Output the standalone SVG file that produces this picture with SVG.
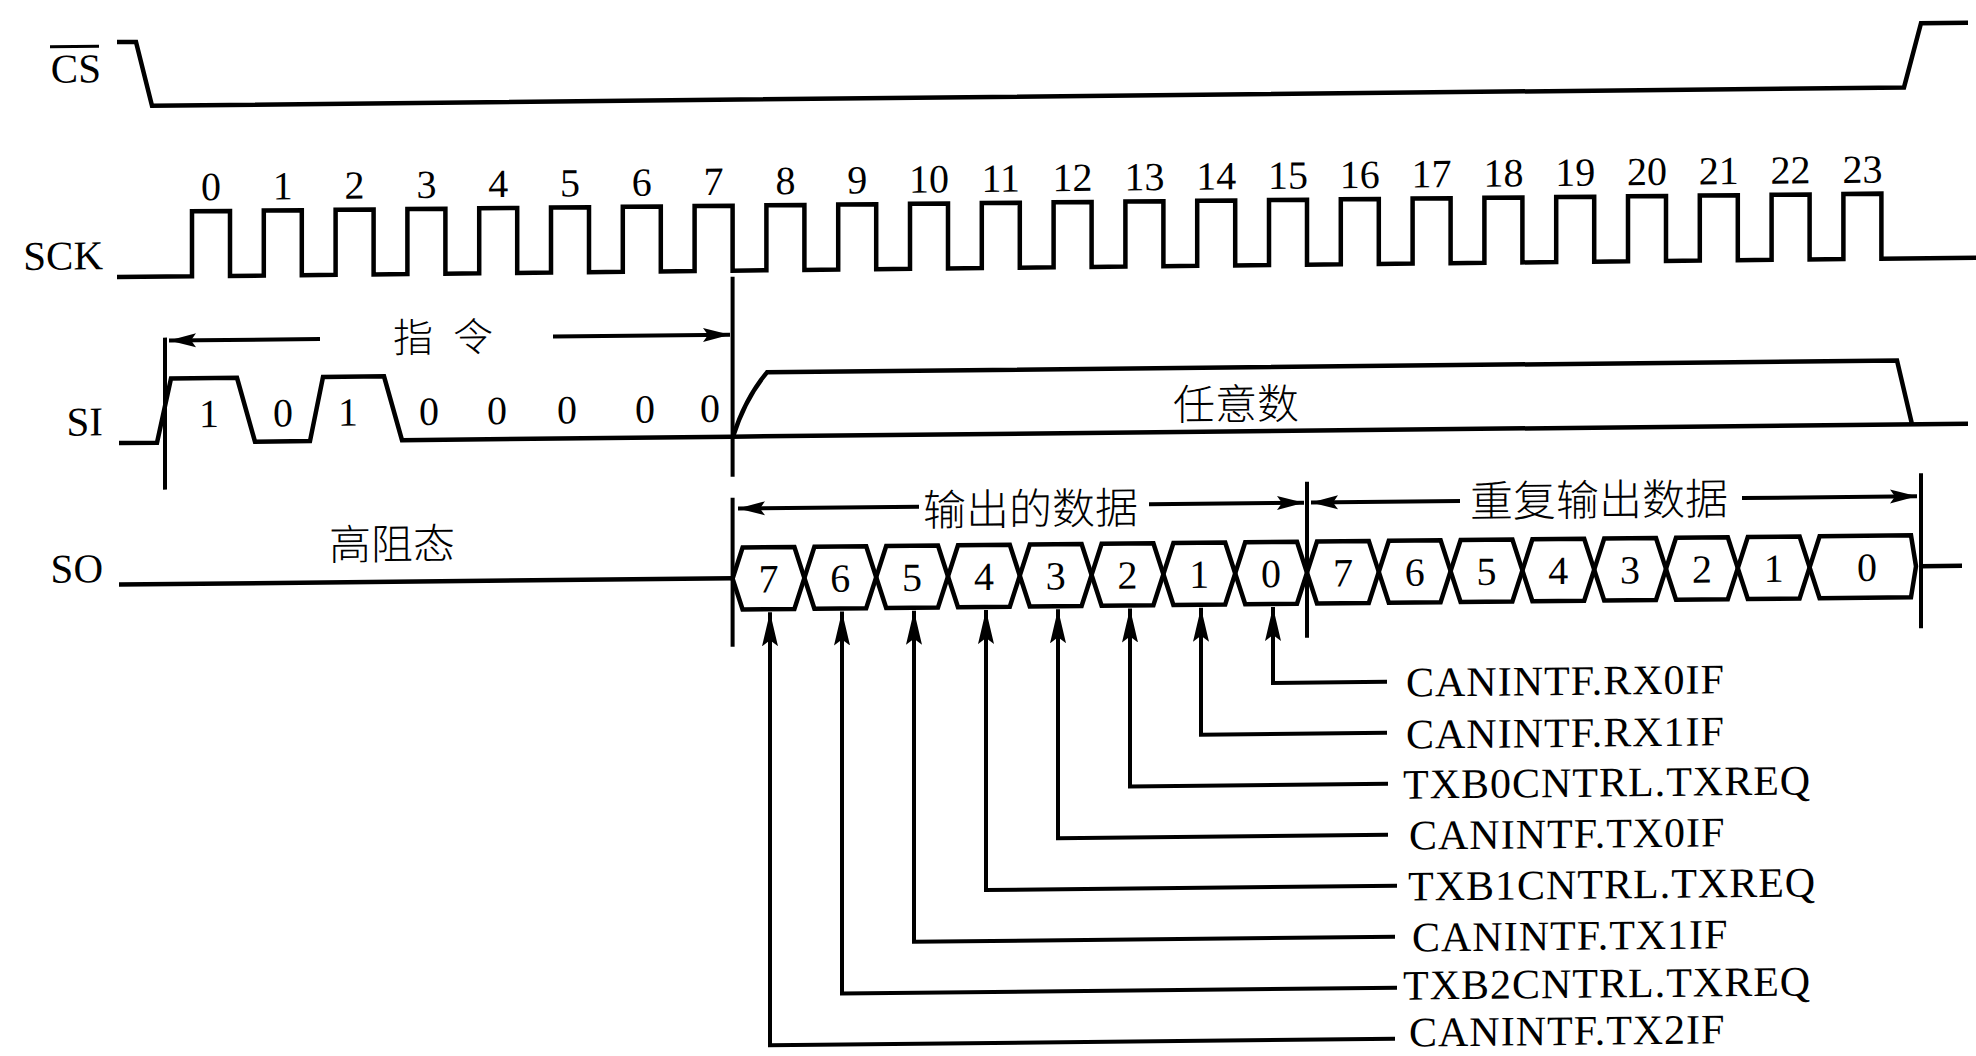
<svg xmlns="http://www.w3.org/2000/svg" width="1976" height="1056" viewBox="0 0 1976 1056">
<style>
.w{fill:none;stroke:#000;stroke-width:4.5;stroke-linejoin:miter}
.t{fill:none;stroke:#000;stroke-width:4}
.cell{fill:none;stroke:#000;stroke-width:4.5}
.lbl{font-family:"Liberation Serif","Times New Roman",serif;font-size:41px;fill:#000;text-anchor:end}
.num{font-family:"Liberation Serif","Times New Roman",serif;font-size:40px;fill:#000;text-anchor:middle}
.cjk{font-family:"Noto Sans CJK SC",sans-serif;font-size:42px;fill:#000;font-weight:300}
.flag{font-family:"Liberation Serif","Times New Roman",serif;font-size:42px;letter-spacing:1px;fill:#000}
</style>
<defs>
<marker id="ah" viewBox="0 0 27 16" refX="27" refY="8" markerWidth="27" markerHeight="16" markerUnits="userSpaceOnUse" orient="auto">
<path d="M0,1 L27,8 L0,15 L5,8 Z" fill="#000"/>
</marker>
<marker id="av" viewBox="0 0 34 18" refX="34" refY="9" markerWidth="34" markerHeight="18" markerUnits="userSpaceOnUse" orient="auto">
<path d="M0,1 L34,9 L0,17 L6,9 Z" fill="#000"/>
</marker>
</defs>
<rect width="1976" height="1056" fill="#fff"/>
<g transform="translate(0 10.35) skewY(-0.6)">

<g id="cs">
<text class="lbl" x="101" y="73">CS</text>
<line x1="50" y1="37" x2="99" y2="37" stroke="#000" stroke-width="3"/>
<path class="w" d="M117,33 H136 L152,97 H1904 L1921,33 H1968"/>
</g>

<g id="sck">
<text class="lbl" x="103" y="260">SCK</text>
<path class="w" d="M117,268 H192 V203 H230 V268 H263.8 V203 H301.8 V268 H335.6 V203 H373.6 V268 H407.4 V203 H445.4 V268 H479.2 V203 H517.2 V268 H551 V203 H589 V268 H622.8 V203 H660.8 V268 H694.6 V203 H732.6 V268 H766.4 V203 H804.4 V268 H838.2 V203 H876.2 V268 H910 V203 H948 V268 H981.8 V203 H1019.8 V268 H1053.6 V203 H1091.6 V268 H1125.4 V203 H1163.4 V268 H1197.2 V203 H1235.2 V268 H1269 V203 H1307 V268 H1340.8 V203 H1378.8 V268 H1412.6 V203 H1450.6 V268 H1484.4 V203 H1522.4 V268 H1556.2 V203 H1594.2 V268 H1628 V203 H1666 V268 H1699.8 V203 H1737.8 V268 H1771.6 V203 H1809.6 V268 H1843.4 V203 H1881.4 V268 H1976"/>
<g id="sck-numbers">
<text class="num" x="211" y="192">0</text>
<text class="num" x="282.8" y="192">1</text>
<text class="num" x="354.6" y="192">2</text>
<text class="num" x="426.4" y="192">3</text>
<text class="num" x="498.2" y="192">4</text>
<text class="num" x="570" y="192">5</text>
<text class="num" x="641.8" y="192">6</text>
<text class="num" x="713.6" y="192">7</text>
<text class="num" x="785.4" y="192">8</text>
<text class="num" x="857.2" y="192">9</text>
<text class="num" x="929" y="192">10</text>
<text class="num" x="1000.8" y="192">11</text>
<text class="num" x="1072.6" y="192">12</text>
<text class="num" x="1144.4" y="192">13</text>
<text class="num" x="1216.2" y="192">14</text>
<text class="num" x="1288" y="192">15</text>
<text class="num" x="1359.8" y="192">16</text>
<text class="num" x="1431.6" y="192">17</text>
<text class="num" x="1503.4" y="192">18</text>
<text class="num" x="1575.2" y="192">19</text>
<text class="num" x="1647" y="192">20</text>
<text class="num" x="1718.8" y="192">21</text>
<text class="num" x="1790.6" y="192">22</text>
<text class="num" x="1862.4" y="192">23</text>
</g>
</g>

<g id="si">
<text class="lbl" x="103" y="426">SI</text>
<path class="w" d="M119,434 H157 L171,370 H237 L255,434 H310 L323,370 H384 L402,434 H732"/>
<path class="w" d="M733,434 Q745,396 767,370 H1897 L1912,434"/>
<path class="w" d="M732,434 H1968"/>
<text class="num" x="209" y="419">1</text>
<text class="num" x="283" y="419">0</text>
<text class="num" x="348" y="419">1</text>
<text class="num" x="429" y="419">0</text>
<text class="num" x="497" y="419">0</text>
<text class="num" x="567" y="419">0</text>
<text class="num" x="645" y="419">0</text>
<text class="num" x="710" y="419">0</text>
<text class="cjk" x="1173" y="422">任意数</text>
</g>

<g id="so">
<text class="lbl" x="103" y="573">SO</text>
<path class="w" d="M119,575.5 H732.6"/>
<text class="cjk" x="329" y="553">高阻态</text>
<g id="so-cells">
<polygon class="cell" points="732.6,576 742.6,545 794.4,545 804.4,576 794.4,607 742.6,607"/>
<polygon class="cell" points="804.4,576 814.4,545 866.2,545 876.2,576 866.2,607 814.4,607"/>
<polygon class="cell" points="876.2,576 886.2,545 938,545 948,576 938,607 886.2,607"/>
<polygon class="cell" points="948,576 958,545 1009.8,545 1019.8,576 1009.8,607 958,607"/>
<polygon class="cell" points="1019.8,576 1029.8,545 1081.6,545 1091.6,576 1081.6,607 1029.8,607"/>
<polygon class="cell" points="1091.6,576 1101.6,545 1153.4,545 1163.4,576 1153.4,607 1101.6,607"/>
<polygon class="cell" points="1163.4,576 1173.4,545 1225.2,545 1235.2,576 1225.2,607 1173.4,607"/>
<polygon class="cell" points="1235.2,576 1245.2,545 1297,545 1307,576 1297,607 1245.2,607"/>
<polygon class="cell" points="1307,576 1317,545 1368.8,545 1378.8,576 1368.8,607 1317,607"/>
<polygon class="cell" points="1378.8,576 1388.8,545 1440.6,545 1450.6,576 1440.6,607 1388.8,607"/>
<polygon class="cell" points="1450.6,576 1460.6,545 1512.4,545 1522.4,576 1512.4,607 1460.6,607"/>
<polygon class="cell" points="1522.4,576 1532.4,545 1584.2,545 1594.2,576 1584.2,607 1532.4,607"/>
<polygon class="cell" points="1594.2,576 1604.2,545 1656,545 1666,576 1656,607 1604.2,607"/>
<polygon class="cell" points="1666,576 1676,545 1727.8,545 1737.8,576 1727.8,607 1676,607"/>
<polygon class="cell" points="1737.8,576 1747.8,545 1799.6,545 1809.6,576 1799.6,607 1747.8,607"/>
<polygon class="cell" points="1809.6,576 1819.6,545 1911,545 1916,576 1911,607 1819.6,607"/>
</g>
<path class="w" d="M1921,576 H1962"/>
<text class="num" x="768.5" y="590">7</text>
<text class="num" x="840.3" y="590">6</text>
<text class="num" x="912.1" y="590">5</text>
<text class="num" x="983.9" y="590">4</text>
<text class="num" x="1055.7" y="590">3</text>
<text class="num" x="1127.5" y="590">2</text>
<text class="num" x="1199.3" y="590">1</text>
<text class="num" x="1271.1" y="590">0</text>
<text class="num" x="1342.9" y="590">7</text>
<text class="num" x="1414.7" y="590">6</text>
<text class="num" x="1486.5" y="590">5</text>
<text class="num" x="1558.3" y="590">4</text>
<text class="num" x="1630.1" y="590">3</text>
<text class="num" x="1701.9" y="590">2</text>
<text class="num" x="1773.7" y="590">1</text>
<text class="num" x="1867" y="590">0</text>
</g>

<g id="spans">
<path class="t" d="M165,329 V481"/>
<path class="t" d="M732.6,274 V474"/>
<path class="t" d="M732.6,495 V644"/>
<path class="t" d="M1307,485 V641"/>
<path class="t" d="M1921,483 V638"/>
<path class="t" d="M320,332 H169" marker-end="url(#ah)"/>
<path class="t" d="M553,332 H730" marker-end="url(#ah)"/>
<text class="cjk" x="393 433 453" y="346" style="font-size:40px">指 令</text>
<path class="t" d="M919,506 H738" marker-end="url(#ah)"/>
<path class="t" d="M1149,506 H1304" marker-end="url(#ah)"/>
<text class="cjk" x="923" y="525" style="font-size:43px">输出的数据</text>
<path class="t" d="M1460,506 H1311" marker-end="url(#ah)"/>
<path class="t" d="M1742,506 H1917" marker-end="url(#ah)"/>
<text class="cjk" x="1470" y="522" style="font-size:43px">重复输出数据</text>
</g>

<g id="connectors">
<path class="t" d="M1387,686 H1273 V610" marker-end="url(#av)"/>
<path class="t" d="M1387,737 H1201 V610" marker-end="url(#av)"/>
<path class="t" d="M1388,788 H1130 V610" marker-end="url(#av)"/>
<path class="t" d="M1388,839 H1058 V610" marker-end="url(#av)"/>
<path class="t" d="M1397,890 H986 V610" marker-end="url(#av)"/>
<path class="t" d="M1395,941 H914 V610" marker-end="url(#av)"/>
<path class="t" d="M1397,992 H842 V610" marker-end="url(#av)"/>
<path class="t" d="M1395,1043 H770 V610" marker-end="url(#av)"/>
</g>

<g id="flags">
<text id="f0" class="flag" x="1406" y="701">CANINTF.RX0IF</text>
<text id="f1" class="flag" x="1406" y="753">CANINTF.RX1IF</text>
<text id="f2" class="flag" x="1403" y="803">TXB0CNTRL.TXREQ</text>
<text id="f3" class="flag" x="1409" y="854">CANINTF.TX0IF</text>
<text id="f4" class="flag" x="1408" y="905">TXB1CNTRL.TXREQ</text>
<text id="f5" class="flag" x="1412" y="956">CANINTF.TX1IF</text>
<text id="f6" class="flag" x="1403" y="1004">TXB2CNTRL.TXREQ</text>
<text id="f7" class="flag" x="1409" y="1051">CANINTF.TX2IF</text>
</g>

</g>
</svg>
